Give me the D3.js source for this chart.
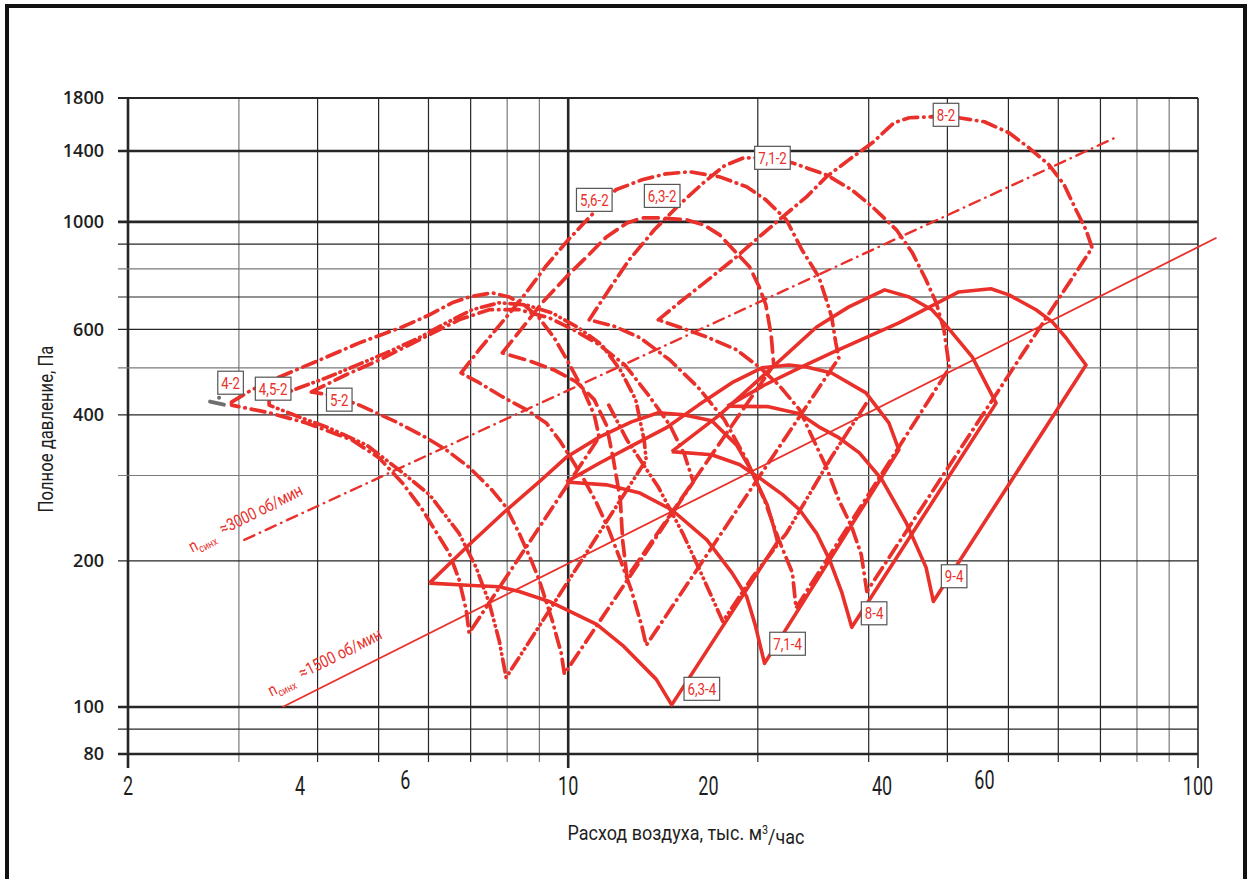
<!DOCTYPE html>
<html><head><meta charset="utf-8">
<script src="https://cdn.jsdelivr.net/npm/d3@7"></script>
<style>body{margin:0;background:#fff}svg{display:block}</style>
</head><body>
<svg id="c" width="1250" height="879"></svg>
<script>
// ---------- axes / ticks ----------
const xGrid = [2,3,4,5,6,7,8,9,10,20,30,40,50,60,70,80,90,100];
const xTickLabels = ["2","4","6","10","20","40","60","100"];
const xTickLabelAt = [2,3.75,5.51,10,16.7,31.5,45.8,100];
const yGrid = [80,90,100,200,300,400,500,600,700,800,900,1000,1400,1800];
const yTickLabels = [80,100,200,400,600,1000,1400,1800];

// ---------- fan curves [flow, thousand m3/h ; pressure, Pa] ----------
const fan63_4 = [[6.02,180],[6.96,216],[7.91,252],[8.99,291],[9.96,328],[11.2,360],[12.6,387],[13.9,404],[15.3,400],[16.9,389],[18.5,347],[19.5,308],[20.7,261],[21.2,235],[21.5,219],[14.6,101],[13.8,114],[12.2,134],[11.1,148],[10.1,157],[9.33,165],[8.36,173],[7.77,177],[7.04,178]];
const fan71_4 = [[9.93,291],[11.2,318],[12.7,347],[14.3,376],[16.1,419],[18.3,468],[20.3,500],[22.4,507],[23.9,502],[26.2,488],[29.7,444],[32.3,385],[33.5,339],[20.5,123],[19.8,148],[19.2,169],[18.2,189],[16.6,221],[14.6,255],[13.0,276],[11.5,287]];
const fan8_4 = [[14.6,336],[17.4,400],[20.3,479],[24.8,607],[27.9,668],[31.8,724],[34.8,700],[37.8,659],[39.5,619],[43.8,527],[47.8,423],[28.2,146],[27.2,172],[26.0,201],[24.8,228],[23.3,255],[21.9,274],[20.1,297],[18.7,316],[16.9,331]];
const fan9_4 = [[17.9,417],[20.5,461],[23.3,500],[26.2,537],[33.5,619],[41.7,717],[46.9,728],[50.1,707],[55.3,659],[58.7,622],[61.7,577],[66.4,507],[38.0,165],[37.0,194],[34.4,240],[31.5,294],[29.0,334],[26.9,359],[25.0,378],[23.3,402],[20.8,416]];

const fan4_2 = [[2.92,425],[3.14,450],[3.48,479],[4.03,519],[4.66,563],[5.45,607],[6.02,643],[6.54,681],[6.96,700],[7.57,714],[8.06,700],[8.51,674],[8.99,634],[9.50,577],[10.0,514],[10.6,446],[11.0,400],[11.2,360],[6.96,142],[6.89,158],[6.71,183],[6.47,208],[6.24,224],[5.87,255],[5.45,290],[5.01,326],[4.54,355],[3.84,385],[3.35,404],[2.92,419]];
const fan45_2 = [[3.35,430],[3.74,455],[4.13,477],[4.66,509],[5.14,537],[5.80,577],[6.31,613],[7.04,659],[7.77,681],[8.58,674],[9.43,649],[10.4,604],[11.3,558],[12.1,495],[12.8,430],[13.2,355],[13.3,323],[7.97,115],[7.77,137],[7.49,164],[7.14,194],[6.71,228],[6.40,247],[6.02,274],[5.39,308],[4.78,347],[4.17,376],[3.74,396],[3.35,419]];
const fan5_2 = [[3.91,446],[4.44,484],[5.01,519],[5.80,571],[6.71,628],[7.49,659],[8.36,659],[9.33,634],[10.2,599],[11.2,558],[12.3,507],[13.4,440],[14.5,381],[15.3,331],[15.8,291],[9.86,117],[9.75,129],[9.43,151],[8.99,183],[8.73,201],[8.36,228],[7.97,258],[7.57,280],[6.96,312],[6.40,339],[5.95,359],[5.33,387],[4.66,419],[4.25,438]];
const fan56_2 = [[6.76,488],[7.22,545],[7.86,622],[8.45,697],[9.23,812],[10.0,918],[10.9,1034],[11.9,1164],[13.1,1221],[14.3,1256],[15.6,1268],[17.4,1238],[19.2,1181],[20.6,1110],[22.2,1010],[23.5,876],[25.0,770],[25.7,690],[26.2,637],[26.6,563],[26.9,524],[13.3,134],[13.1,146],[12.6,174],[12.1,201],[11.6,232],[11.1,263],[10.6,294],[10.1,326],[9.68,355],[9.23,385],[8.58,410],[7.86,436],[7.22,466]];
const fan63_2 = [[7.86,537],[8.58,619],[9.09,681],[9.93,770],[10.7,847],[11.5,931],[12.4,995],[13.1,1019],[13.9,1019],[15.4,1010],[16.4,986],[17.4,940],[18.3,876],[19.4,808],[20.1,735],[20.6,674],[21.0,585],[21.2,507],[12.4,185],[12.2,221],[12.1,267],[11.8,323],[11.5,381],[11.0,430],[10.3,468],[9.50,495],[8.67,517]];
const fan71_2 = [[10.8,628],[11.6,724],[12.5,835],[13.7,963],[15.0,1084],[16.4,1204],[17.7,1305],[19.0,1355],[20.8,1355],[22.7,1323],[25.7,1250],[28.2,1164],[30.4,1074],[33.2,963],[35.2,863],[37.0,759],[38.4,681],[39.5,599],[40.3,500],[23.0,160],[22.7,189],[21.6,221],[20.5,267],[19.2,323],[17.7,391],[16.1,455],[14.5,519],[13.0,577],[11.8,610]];
const fan8_2 = [[13.9,628],[15.0,681],[16.9,770],[18.5,847],[20.1,931],[21.9,1024],[23.9,1126],[25.7,1238],[27.9,1342],[30.4,1455],[32.9,1600],[34.8,1639],[37.8,1647],[41.7,1639],[45.8,1608],[50.1,1526],[53.9,1421],[58.0,1311],[61.3,1192],[64.0,1059],[66.4,963],[67.9,884],[29.8,173],[29.2,206],[28.2,235],[26.9,267],[25.7,312],[24.4,360],[23.3,410],[21.6,461],[20.1,502],[18.5,545],[16.6,579],[15.0,607]];
const extra_2 = [[11.6,419],[12.4,355],[13.9,284],[15.2,228],[16.1,194],[17.6,150],[19.6,185],[22.2,228],[26.2,328],[30.0,430]];
const grayMark = [[2.70,426],[2.84,420]];
const grayDot = [2.79,434];

// synchronous speed lines
const n1500 = [[3.52,100],[107,927]];
const n3000 = [[3.06,221],[74.3,1496]];
const n1500TextAt = [3.38,105];
const n3000TextAt = [2.53,208];

// curve labels
const labelTexts = ["4-2","4,5-2","5-2","5,6-2","6,3-2","7,1-2","8-2","6,3-4","7,1-4","8-4","9-4"];
const labelAt = [[2.91,466],[3.40,453],[4.33,430],[11.0,1110],[14.1,1131],[21.1,1355],[39.8,1662],[16.3,109],[22.3,135],[30.6,156],[41.0,186]];

// ---------- drawing ----------
const RED = '#e9302a';
const x = d3.scaleLog().domain([2,100]).range([128,1198]);
const y = d3.scaleLog().domain([80,1800]).range([754,98]);
const svg = d3.select('#c');
const FONT = 'Roboto, "Liberation Sans", sans-serif';

svg.append('rect').attr('x',7).attr('y',6).attr('width',1238).attr('height',900)
  .attr('fill','none').attr('stroke','#111').attr('stroke-width',4);

const grid = svg.append('g');
const boldX = [2,10], longX = [2,10,100], lightX = [3,8,9,80,90];
xGrid.forEach(v => {
  grid.append('line').attr('x1',x(v)).attr('x2',x(v)).attr('y1',y(1800))
    .attr('y2', y(80) + (longX.includes(v) ? 14 : 8))
    .attr('stroke', lightX.includes(v) ? '#7a7a7a' : '#262626')
    .attr('stroke-width', boldX.includes(v) ? 2.6 : (v===100?1.6:1.2));
});
const boldY = [80,100,1000,1400], lightY = [300,500,800];
yGrid.forEach(v => {
  grid.append('line').attr('x1',x(2)-10).attr('x2',x(100)).attr('y1',y(v)).attr('y2',y(v))
    .attr('stroke', lightY.includes(v) ? '#7a7a7a' : '#262626')
    .attr('stroke-width', boldY.includes(v) ? 2.6 : (v===1800?2:1.2));
});

// tick labels
yTickLabels.forEach(v => {
  svg.append('text').attr('x',104).attr('y',y(v)).attr('dy','0.36em')
    .attr('text-anchor','end').attr('font-family','"Open Sans", "Liberation Sans", sans-serif')
    .attr('font-weight',600).attr('font-size',18).attr('fill','#1e1e1e').text(v);
});
function condText(parent, str, px, py, size, sx, anchor, fill) {
  const g = parent.append('g').attr('transform',`translate(${px},${py}) scale(${sx},1)`);
  return g.append('text').attr('text-anchor',anchor).attr('dy','0.36em')
    .attr('font-family',FONT).attr('font-size',size).attr('fill',fill).text(str);
}
xTickLabels.forEach((t,i) => {
  const up = (t==="6"||t==="60") ? -6 : 0;
  condText(svg, t, x(xTickLabelAt[i]), 786+up, 25, 0.72, 'middle', '#1e1e1e');
});

// axis titles
function fitText(sel, target) {
  const len = sel.node().getComputedTextLength();
  return target/len;
}
{
  const g = svg.append('g');
  const t = g.append('text').attr('font-family',FONT).attr('font-size',20).attr('fill','#1e1e1e')
    .attr('text-anchor','middle').attr('dy','0.36em');
  t.append('tspan').text('Расход воздуха, тыс. м');
  t.append('tspan').attr('font-size',12).attr('dy','-0.5em').text('3');
  t.append('tspan').attr('dy','0.5em').text('/час');
  const s = fitText(t, 237);
  g.attr('transform',`translate(686,833) scale(${s},1)`);
}
{
  const g = svg.append('g');
  const t = g.append('text').attr('font-family',FONT).attr('font-size',20).attr('fill','#1e1e1e')
    .attr('text-anchor','middle').attr('dy','0.36em').text('Полное давление, Па');
  const s = fitText(t, 167);
  g.attr('transform',`translate(46,429) rotate(-90) scale(${s},1)`);
}

const line = d3.line().x(d => x(d[0])).y(d => y(d[1]));
const closed = pts => line(pts.concat([pts[0]]));

// speed lines
svg.append('path').attr('d', line(n1500)).attr('fill','none').attr('stroke',RED).attr('stroke-width',1.8);
svg.append('path').attr('d', line(n3000)).attr('fill','none').attr('stroke',RED).attr('stroke-width',2.4)
  .attr('stroke-dasharray','11,6,0.5,6').attr('stroke-linecap','round');

function nText(at, lineDef, num) {
  const p0 = [x(lineDef[0][0]), y(lineDef[0][1])], p1 = [x(lineDef[1][0]), y(lineDef[1][1])];
  const ang = Math.atan2(p1[1]-p0[1], p1[0]-p0[0]) * 180/Math.PI;
  const g = svg.append('g');
  const t = g.append('text').attr('font-family',FONT).attr('font-size',17).attr('fill',RED);
  t.append('tspan').text('n');
  t.append('tspan').attr('font-size',11).attr('dy','0.35em').text('синх');
  t.append('tspan').attr('dy','-0.35em').attr('dx',10).text('≈' + num + ' об/мин');
  const s = fitText(t, 118);
  g.attr('transform',`translate(${x(at[0])},${y(at[1])}) rotate(${ang}) scale(${s},1)`);
}
nText(n1500TextAt, n1500, '1500');
nText(n3000TextAt, n1500, '3000');

// 2-pole (3000 rpm) curves
const DASHDOT = '14,6,0.5,6', DASHDOT2 = '13,5,0.5,5,0.5,5', DASHED = '15,7';
const twoPole = [
  [fan4_2, DASHDOT], [fan45_2, DASHDOT2], [fan5_2, DASHDOT], [fan56_2, DASHDOT],
  [fan63_2, DASHED], [fan71_2, DASHDOT], [fan8_2, DASHDOT]
];
twoPole.forEach(([pts, dash]) => {
  svg.append('path').attr('d', closed(pts)).attr('fill','none').attr('stroke',RED)
    .attr('stroke-width',3.7).attr('stroke-dasharray',dash).attr('stroke-linecap','round')
    .attr('stroke-linejoin','round');
});
svg.append('path').attr('d', line(extra_2)).attr('fill','none').attr('stroke',RED)
  .attr('stroke-width',3.7).attr('stroke-dasharray',DASHDOT2).attr('stroke-linecap','round');

// 4-pole (1500 rpm) curves
[fan63_4, fan71_4, fan8_4, fan9_4].forEach(pts => {
  svg.append('path').attr('d', closed(pts)).attr('fill','none').attr('stroke',RED)
    .attr('stroke-width',3.6).attr('stroke-linejoin','round');
});

// gray mark
svg.append('path').attr('d', line(grayMark)).attr('stroke','#6f6f6f').attr('stroke-width',4).attr('stroke-linecap','round');
svg.append('circle').attr('cx',x(grayDot[0])).attr('cy',y(grayDot[1])).attr('r',2).attr('fill','#6f6f6f');

// labels
labelTexts.forEach((t,i) => {
  const cx = x(labelAt[i][0]), cy = y(labelAt[i][1]);
  const g = svg.append('g').attr('transform',`translate(${cx},${cy})`);
  const rect = g.append('rect');
  const tg = g.append('g').attr('transform','scale(0.78,1)');
  const txt = tg.append('text').attr('text-anchor','middle').attr('dy','0.36em')
    .attr('font-family',FONT).attr('font-size',17).attr('fill',RED).text(t);
  const w = txt.node().getComputedTextLength()*0.78 + 7;
  rect.attr('x',-w/2).attr('y',-11.5).attr('width',w).attr('height',23)
    .attr('fill','#fff').attr('stroke','#555').attr('stroke-width',1.2);
});
</script>
</body></html>
